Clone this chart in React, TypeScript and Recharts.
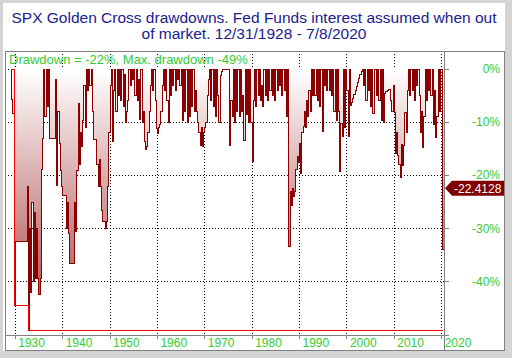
import React from "react";
import {
  ComposedChart,
  Area,
  Line,
  XAxis,
  YAxis,
  CartesianGrid,
  ReferenceLine,
} from "recharts";

// quarterly samples of the strategy drawdown (%), starting 1929 Q1
const FIRST_YEAR = 1929;
const STEP = 0.25;

const dd1929 = [0, -5.8, -8.4, -44.5];
const dd1930s = [
  -32.5, -32.5, -32.5, -32.5,
  -32.5, -32.5, -32.5, -32.5,
  -32.5, -32.5, -22, -49,
  -30, -42, -25, -40,
  -27, -39.3, -30, -39.3,
  -42.4, -39.3, -18.9, -13,
  0, -9, 0, -7,
  0, -13, -13, -13,
  -13, -13, -2, -21.8,
  -8, -14, -19, -22,
];
const dd1940s = [
  -23.8, -23.8, -23.8, -30,
  -25, -31, -36.5, -36.5,
  -36.5, -36.5, -25, -30.5,
  -19, -6.4, -18, -12,
  -14.6, -9.6, -3, -11,
  0, -4, 0, -3,
  0, -8, -13.2, -13.2,
  -13.2, -18, -22, -17,
  -22, -26.5, -28.6, -28.6,
  -30, -28.7, -22, -12,
];
const dd1950s = [
  -3, 0, -13.7, -4,
  0, -8, 0, -5,
  0, -6, 0, -7,
  -1, -10, -8, -6,
  0, -3, 0, -2,
  0, -5, 0, -6,
  -2, -9.4, 0, -10,
  -8, -13.7, -15.2, -14.5,
  -12, -8, -3, 0,
  -4, 0, -6, -11.2,
];
const dd1960s = [
  -12.2, -11, -10.5, -8,
  -3, 0, -4, 0,
  -6, -10, 0, -5,
  0, -3, 0, -4,
  0, -2, 0, -3,
  0, -9.6, 0, -8,
  0, -10, 0, -9,
  0, -7, 0, -8,
  -4, -8, -10, -12,
  -14.3, -11, -14.6, -12,
];
const dd1970s = [
  -11, -10, -5, -2,
  0, -6, 0, -7,
  0, -9, 0, -5,
  -10, -1.2, -0.5, 0,
  0, 0, 0, 0,
  0, -14.3, -6, -9,
  0, -10, 0, -8,
  0, -9, 0, -8,
  -5, -13.5, 0, -8.5,
  0, -10, 0, -10,
];
const dd1980s = [
  -17.4, -6, 0, -7,
  0, -5, 0, -6,
  -3, -7, 0, -5,
  0, -6, 0, -4,
  0, -5, 0, -6,
  0, -4, 0, -3,
  0, -5, 0, -4,
  0, -9, 0, -33.4,
  -23, -25.6, -22.5, -24,
  -23, -18.8, -16.5, -17.5,
];
const dd1990s = [
  -14, -19.6, -12, -10.8,
  -8, -11, -6, -9,
  -4, -8, 0, -5,
  0, -5, 0, -6,
  0, -7, 0, -11.8,
  0, -3, 0, -4,
  0, -4, 0, -5,
  0, -8, 0, -9.7,
  0, -8, -19.3, -10.3,
  -12.6, 0, -11, 0,
];
const dd2000s = [
  -4, -12.6, 0, -6.8,
  -6.2, -5.5, -4.8, -4.0,
  -3.3, -2.6, -1.8, -1.1,
  -0.5, 0, -3, 0,
  -6, 0, -4, 0,
  -7, 0, -8.4, 0,
  0, -5, 0, -6,
  0, -9.7, 0, -10,
  -4.6, -4.3, -4.1, -3.9,
  -3.8, -6, -8, -3,
];
const dd2010s = [
  -8.1, -15.9, -12, -16.3,
  -18, -20.3, -14.1, -18.1,
  -14.4, -8.1, -12, -4,
  0, -5, 0, -4,
  0, -6, 0, -3,
  0, -5, -12, -8,
  -14.7, -9, 0, -6,
  0, -4, 0, -5,
  0, -10.4, -4, -12.8,
  -9, 0, -8, 0,
];
const dd2020 = [0, -34, -22.41];

// running maximum drawdown (red step line)
const maxDdYears = [1929, 1929.75, 1932.75, 2020.25];
const maxDdValues = [0, -44.5, -49.1, -49.1];

const lastValue = -22.4128;
const xTicks = [1930, 1940, 1950, 1960, 1970, 1980, 1990, 2000, 2010, 2020];
const yTicks = [0, -10, -20, -30, -40, -50];

const drawdown = [
  ...dd1929, ...dd1930s, ...dd1940s, ...dd1950s, ...dd1960s,
  ...dd1970s, ...dd1980s, ...dd1990s, ...dd2000s, ...dd2010s, ...dd2020,
];

const data = drawdown.map((v, i) => {
  const t = FIRST_YEAR + i * STEP;
  const j = maxDdYears.indexOf(t);
  return { t, dd: v, mx: j >= 0 ? maxDdValues[j] : null };
});

const FONT = '"Liberation Sans", Arial, sans-serif';
const GREEN = "#33cc33";
const DARK_RED = "#8b0000";

function XTick(props: any) {
  const { x, y, payload } = props;
  return (
    <text x={x + 3} y={y + 8} fill={GREEN} fontSize={12} fontFamily={FONT}>
      {payload.value}
    </text>
  );
}

function YTick(props: any) {
  const { x, y, payload } = props;
  if (payload.value === -50) return <g />;
  return (
    <text x={x + 51} y={y + 4} textAnchor="end" fill={GREEN} fontSize={12} fontFamily={FONT}>
      {payload.value + "%"}
    </text>
  );
}

function LastLabel(props: any) {
  const vb = props.viewBox;
  const tip = vb.x + vb.width + 1;
  const cy = vb.y;
  return (
    <g>
      <polygon
        points={`${tip},${cy} ${tip + 7},${cy - 7.5} ${tip + 59},${cy - 7.5} ${tip + 59},${cy + 7.5} ${tip + 7},${cy + 7.5}`}
        fill="#800000"
      />
      <text x={tip + 9} y={cy + 4.5} fill="#fff" fontSize={12} fontFamily={FONT}>
        {lastValue.toFixed(4)}
      </text>
    </g>
  );
}

export default function App() {
  return (
    <div style={{ position: "fixed", left: 0, top: 0, width: 512, height: 358, background: "#d4d4d4" }}>
      <style>{".recharts-surface path, .recharts-surface line { shape-rendering: crispEdges; }"}</style>
      <div style={{ position: "absolute", left: 3, top: 3, width: 502, height: 348, background: "#fff" }} />
      <div style={{ position: "absolute", left: 0, top: 0 }}>
        <ComposedChart width={512} height={358} data={data} margin={{ top: 51, right: 8, bottom: 8, left: 5 }}>
          <defs>
            <linearGradient id="ddFill" gradientUnits="userSpaceOnUse" x1="0" y1="69" x2="0" y2="335">
              <stop offset="0" stopColor="#ffffff" />
              <stop offset="1" stopColor="#a43838" />
            </linearGradient>
          </defs>
          <CartesianGrid stroke="#000" strokeDasharray="1 2" />
          <XAxis
            dataKey="t"
            type="number"
            domain={[1927.83, 2020.5]}
            ticks={xTicks}
            height={15}
            axisLine={false}
            tickLine={{ stroke: "#808080" }}
            tickSize={4}
            tickMargin={0}
            tick={<XTick />}
            interval={0}
          />
          <YAxis
            orientation="right"
            type="number"
            domain={[-50, 3.4]}
            ticks={yTicks}
            width={60}
            axisLine={false}
            tickLine={{ stroke: "#808080" }}
            tickSize={5}
            tickMargin={0}
            tick={<YTick />}
            interval={0}
          />
          <Area
            type="stepAfter"
            dataKey="dd"
            baseValue={0}
            stroke={DARK_RED}
            strokeWidth={1}
            fill="url(#ddFill)"
            fillOpacity={1}
            isAnimationActive={false}
            dot={false}
            activeDot={false}
          />
          <Line
            type="stepAfter"
            dataKey="mx"
            stroke="#ff0000"
            strokeWidth={1}
            connectNulls
            dot={false}
            activeDot={false}
            isAnimationActive={false}
          />
          <ReferenceLine y={lastValue} stroke="none" label={(p: any) => <LastLabel {...p} />} />
        </ComposedChart>
      </div>
      <div
        style={{
          position: "absolute",
          left: 5,
          top: 51,
          width: 500,
          height: 300,
          border: "1px solid #808080",
          boxSizing: "border-box",
        }}
      />
      <div style={{ position: "absolute", left: 444, top: 51, width: 1, height: 300, background: "#808080" }} />
      <div style={{ position: "absolute", left: 5, top: 335, width: 440, height: 1, background: "#808080" }} />
      <div
        style={{
          position: "absolute",
          left: 3,
          top: 9.5,
          width: 502,
          textAlign: "center",
          fontFamily: FONT,
          fontSize: 15.5,
          lineHeight: "16.5px",
          color: "#202090",
        }}
      >
        SPX Golden Cross drawdowns. Fed Funds interest assumed when out
        <br />
        of market. 12/31/1928 - 7/8/2020
      </div>
      <div
        style={{
          position: "absolute",
          left: 9,
          top: 52,
          fontFamily: FONT,
          fontSize: 13,
          lineHeight: "15px",
          color: GREEN,
          whiteSpace: "nowrap",
        }}
      >
        Drawdown = -22%, Max. drawdown -49%
      </div>
    </div>
  );
}
